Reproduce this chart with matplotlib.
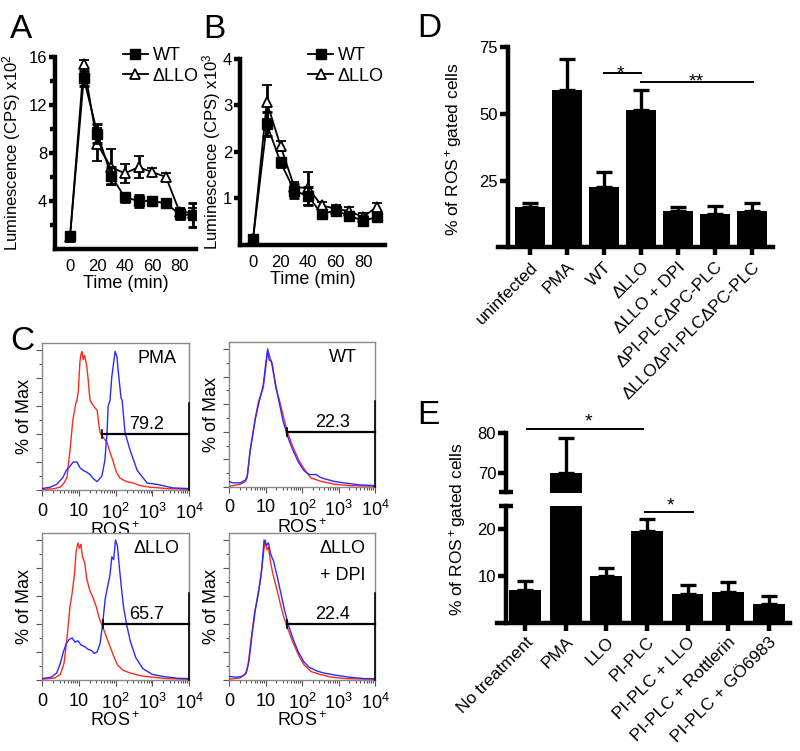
import numpy as np
import matplotlib
matplotlib.use("Agg")
import matplotlib.pyplot as plt
from matplotlib.lines import Line2D

plt.rcParams["font.family"] = ["Liberation Sans", "DejaVu Sans"]
plt.rcParams["mathtext.fontset"] = "custom"
plt.rcParams["mathtext.rm"] = "Liberation Sans"
plt.rcParams["mathtext.it"] = "Liberation Sans:italic"
plt.rcParams["mathtext.bf"] = "Liberation Sans:bold"
plt.rcParams["font.size"] = 12

# ─── data: A / B time courses ────────────────────────────────────────────────
time_min = [0, 10, 20, 30, 40, 50, 60, 70, 80, 90]
time_ticks = [0, 20, 40, 60, 80]

a_wt       = [1.1, 14.2, 9.6, 6.1, 4.3, 4.0, 4.0, 3.8, 2.9, 2.8]
a_wt_err   = [0.2, 0.6, 0.8, 0.7, 0.4, 0.5, 0.2, 0.3, 0.4, 1.0]
a_dllo     = [1.0, 15.4, 8.7, 6.8, 6.3, 6.8, 6.4, 6.0, 3.1, 3.0]
a_dllo_err = [0.1, 0.3, 1.4, 1.5, 0.8, 0.9, 0.3, 0.3, 0.3, 0.4]

b_wt       = [0.13, 2.60, 1.78, 1.17, 1.05, 0.67, 0.74, 0.63, 0.52, 0.60]
b_wt_err   = [0.05, 0.25, 0.10, 0.15, 0.20, 0.08, 0.08, 0.08, 0.10, 0.08]
b_dllo     = [0.13, 3.07, 2.13, 1.25, 1.22, 0.85, 0.78, 0.73, 0.60, 0.82]
b_dllo_err = [0.05, 0.37, 0.10, 0.10, 0.35, 0.08, 0.08, 0.08, 0.08, 0.08]

# ─── data: C flow histograms (x in decades: 0, 10, 10^2, 10^3, 10^4 -> 0..4) ─
pma_red_x  = [0, 0.3, 0.49, 0.6, 0.68, 0.76, 0.84, 0.92, 0.95, 0.99, 1.03, 1.06, 1.09, 1.12,
              1.15, 1.17, 1.22, 1.26, 1.28, 1.31, 1.40, 1.50, 1.55, 1.58, 1.68, 1.77, 1.85,
              1.93, 2.02, 2.12, 2.30, 2.48, 2.70, 2.94, 3.20, 3.40, 4.0]
pma_red_y  = [0.5, 0.8, 2, 5, 9, 28, 50, 62, 64, 71, 91, 97, 99, 93,
              96, 95, 88, 78, 71, 64, 60, 57, 46, 41, 37, 34, 27,
              21, 13, 8.5, 6, 5, 3, 2, 1.5, 1, 0.5]
pma_blue_x = [0, 0.22, 0.4, 0.57, 0.66, 0.76, 0.85, 0.95, 1.03, 1.12, 1.2, 1.31, 1.40, 1.50,
              1.63, 1.71, 1.77, 1.80, 1.85, 1.90, 1.99, 2.04, 2.07, 2.15, 2.18, 2.26, 2.39,
              2.59, 2.86, 3.13, 3.56, 4.0]
pma_blue_y = [1, 2, 4, 9, 14, 17, 20, 20, 16, 14, 13, 11, 8, 6,
              10, 21, 41, 60, 64, 81, 99, 95, 86, 66, 64, 41, 29,
              14, 5, 4, 1.5, 1]

wt_red_x   = [0, 0.31, 0.45, 0.5, 0.58, 0.72, 0.81, 0.94, 1.0, 1.05, 1.08, 1.13, 1.19, 1.28,
              1.39, 1.50, 1.61, 1.75, 1.92, 2.11, 2.25, 2.53, 2.89, 3.3, 4.0]
wt_red_y   = [0.5, 2, 4, 7, 27, 50, 62, 72, 85, 97, 98, 93, 89, 72,
              62, 50, 39, 29, 19, 11, 6.5, 4, 2, 1, 0.5]
wt_blue_x  = [0, 0.1, 0.31, 0.45, 0.5, 0.58, 0.72, 0.81, 0.94, 1.0, 1.06, 1.1, 1.16, 1.25,
              1.36, 1.48, 1.6, 1.73, 1.9, 2.05, 2.2, 2.39, 2.5, 2.61, 2.89, 3.28, 3.6, 4.0]
wt_blue_y  = [4, 3, 3, 5, 8, 26, 49, 60, 74, 88, 100, 92, 91, 78,
              63, 48, 37, 28, 18, 12, 9, 9, 7, 6, 4, 2.5, 1.5, 1]

dllo_red_x  = [0, 0.35, 0.5, 0.6, 0.68, 0.76, 0.82, 0.88, 0.93, 0.98, 1.02, 1.06, 1.1, 1.16,
               1.22, 1.3, 1.4, 1.48, 1.56, 1.65, 1.75, 1.85, 1.95, 2.05, 2.2, 2.4, 2.7, 3.0,
               3.4, 4.0]
dllo_red_y  = [0.5, 1.5, 4, 12, 30, 52, 62, 75, 92, 98, 94, 97, 88, 84,
               72, 64, 58, 52, 44, 38, 31, 24, 17, 11, 7, 5, 3, 2,
               1, 0.5]
dllo_blue_x = [0, 0.25, 0.4, 0.5, 0.58, 0.66, 0.74, 0.82, 0.9, 0.98, 1.06, 1.15, 1.25, 1.35,
               1.42, 1.5, 1.58, 1.65, 1.72, 1.78, 1.85, 1.9, 1.95, 2.0, 2.05, 2.1, 2.16, 2.22,
               2.3, 2.4, 2.55, 2.75, 3.0, 3.3, 3.7, 4.0]
dllo_blue_y = [1, 2, 5, 12, 20, 26, 29, 30, 27, 28, 25, 24, 22, 21,
               19, 20, 26, 40, 58, 66, 75, 88, 86, 100, 96, 82, 66, 52,
               40, 28, 16, 8, 4, 2.5, 1.2, 1]

dpi_red_x  = [0, 0.3, 0.45, 0.52, 0.6, 0.7, 0.8, 0.88, 0.95, 1.0, 1.04, 1.08, 1.14, 1.2,
              1.3, 1.4, 1.5, 1.62, 1.75, 1.9, 2.05, 2.25, 2.5, 2.8, 3.2, 4.0]
dpi_red_y  = [0.5, 1.5, 4, 10, 28, 48, 62, 75, 92, 100, 93, 95, 84, 76,
              66, 55, 45, 36, 27, 18, 11, 6, 4, 2, 1, 0.5]
dpi_blue_x = [0, 0.2, 0.35, 0.47, 0.55, 0.63, 0.72, 0.82, 0.9, 0.96, 1.02, 1.08, 1.14, 1.22,
              1.32, 1.42, 1.52, 1.63, 1.76, 1.9, 2.05, 2.2, 2.4, 2.6, 2.9, 3.3, 3.7, 4.0]
dpi_blue_y = [2.5, 2, 2.5, 5, 14, 32, 50, 64, 80, 100, 96, 98, 90, 85,
              74, 62, 50, 39, 29, 20, 13, 9, 6.5, 5, 3.5, 2, 1, 1]

flow_ticks  = ["0", "10", "$10^2$", "$10^3$", "$10^4$"]
gate_values = ["79.2", "22.3", "65.7", "22.4"]

# ─── data: D / E bar charts ─────────────────────────────────────────────────
d_labels = ["uninfected", "PMA", "WT", "ΔLLO", "ΔLLO + DPI",
            "ΔPI-PLCΔPC-PLC", "ΔLLOΔPI-PLCΔPC-PLC"]
d_vals = [15.2, 59.1, 22.7, 51.3, 13.5, 12.7, 13.5]
d_err  = [1.6, 11.3, 5.4, 7.5, 1.7, 2.9, 3.0]

e_labels = ["No treatment", "PMA", "LLO", "PI-PLC", "PI-PLC + LLO",
            "PI-PLC + Rottlerin", "PI-PLC + GÖ6983"]
e_vals = [7.0, 69.8, 9.9, 19.6, 6.2, 6.6, 3.9]
e_err  = [1.8, 8.9, 1.7, 2.5, 1.8, 2.0, 1.8]

# ─── helpers ────────────────────────────────────────────────────────────────
W, H = 800, 751
SPINE = 3.2


def rect(l, t, r, b):
    return [l / W, 1 - b / H, (r - l) / W, (b - t) / H]


def prism_axes(ax):
    for s in ("top", "right"):
        ax.spines[s].set_visible(False)
    for s in ("left", "bottom"):
        ax.spines[s].set_linewidth(SPINE)
        ax.spines[s].set_capstyle("projecting")
    ax.tick_params(which="both", direction="out", width=SPINE, labelsize=12, pad=1)
    ax.tick_params(which="major", length=4.5)
    ax.tick_params(which="minor", length=3.5)


fig = plt.figure(figsize=(8, 7.51), dpi=100)

# ─── A & B ──────────────────────────────────────────────────────────────────
def time_course(ax, wt, wt_err, dllo, dllo_err, ylim, yticks, yminor, exp, lab_x, leg_xy, xlim):
    ax.errorbar(time_min, dllo, yerr=dllo_err, fmt="-^", color="black", mfc="white",
                mec="black", ms=7, mew=1.3, lw=1.3, elinewidth=2, capsize=3.5,
                capthick=2, zorder=3)
    ax.errorbar(time_min, wt, yerr=wt_err, fmt="-s", color="black", ms=7, lw=1.3,
                elinewidth=2, capsize=3.5, capthick=2, zorder=4)
    prism_axes(ax)
    ax.set_xlim(*xlim)
    ax.set_ylim(*ylim)
    ax.set_yticks(yticks)
    if yminor:
        ax.set_yticks(yminor, minor=True)
    ax.set_xticks(time_ticks)
    ax.tick_params(axis="x", length=0, pad=7)
    ax.set_xlabel("Time (min)", fontsize=13, labelpad=1)
    ax.set_ylabel("Luminescence (CPS) x10$^{%d}$" % exp, fontsize=12)
    ax.yaxis.set_label_coords(lab_x, 0.5)
    handles = [Line2D([], [], color="black", marker="s", ms=7, lw=1.3),
               Line2D([], [], color="black", marker="^", mfc="white", ms=7, mew=1.3, lw=1.3)]
    ax.legend(handles, ["WT", "ΔLLO"], loc="upper left", bbox_to_anchor=leg_xy,
              frameon=False, fontsize=13, handlelength=1.4, handletextpad=0.25,
              borderaxespad=0, borderpad=0, labelspacing=0.2)


axA = fig.add_axes(rect(55, 56.7, 196, 249))
time_course(axA, a_wt, a_wt_err, a_dllo, a_dllo_err, (0, 16), [4, 8, 12, 16],
            [2, 6, 10, 14], 2, -0.23, (0.48, 1.05), (-11, 92))

axB = fig.add_axes(rect(240, 59, 385, 245))
time_course(axB, b_wt, b_wt_err, b_dllo, b_dllo_err, (0, 4), [1, 2, 3, 4],
            None, 3, -0.115, (0.47, 1.065), (-9.5, 96))

# ─── C ──────────────────────────────────────────────────────────────────────
def flow_panel(ax, rx, ry, bx, by, gate_x0, gate_txt, name, name_y):
    ax.plot(rx, ry, color="#ff2a1f", lw=1.0, zorder=3)
    ax.plot(bx, by, color="#2a2aff", lw=1.0, zorder=3)
    ax.set_xlim(0, 4)
    ax.set_ylim(0, 105)
    for s in ax.spines.values():
        s.set_color("#8a8a8a")
        s.set_linewidth(1.0)
    ax.set_xticks(range(5))
    ax.set_xticklabels(flow_ticks, fontsize=13)
    ax.set_xticks([d + np.log10(k) for d in range(4) for k in range(2, 10)], minor=True)
    ax.set_yticks(range(0, 101, 20))
    ax.set_yticklabels([])
    ax.set_yticks(range(10, 101, 20), minor=True)
    ax.tick_params(which="both", direction="out", color="#555555", width=0.8, pad=5)
    ax.tick_params(which="major", length=4)
    ax.tick_params(which="minor", length=2.5)
    ax.set_xlabel("ROS$^+$", fontsize=13, labelpad=-1)
    ax.set_ylabel("% of Max", fontsize=13)
    ax.yaxis.set_label_coords(-0.06, 0.5)
    gy = 40
    ax.plot([gate_x0, 4], [gy, gy], color="black", lw=1.6, clip_on=False, zorder=4)
    ax.plot([gate_x0, gate_x0], [gy - 3, gy + 3], color="black", lw=1.2, zorder=4)
    ax.plot([4, 4], [0, 62], color="black", lw=1.2, clip_on=False, zorder=4)
    ax.text(2.85, 47, gate_txt, fontsize=13, ha="center", va="center")
    for i, line in enumerate(name):
        ax.text(3.12, name_y - 19 * i, line, fontsize=13, ha="center", va="center")


axC1 = fig.add_axes(rect(42, 343, 189, 490))
flow_panel(axC1, pma_red_x, pma_red_y, pma_blue_x, pma_blue_y, 1.63, gate_values[0], ["PMA"], 94)
axC2 = fig.add_axes(rect(229, 342, 375, 487))
flow_panel(axC2, wt_red_x, wt_red_y, wt_blue_x, wt_blue_y, 1.58, gate_values[1], ["WT"], 94)
axC3 = fig.add_axes(rect(42, 533, 189, 680))
flow_panel(axC3, dllo_red_x, dllo_red_y, dllo_blue_x, dllo_blue_y, 1.66, gate_values[2], ["ΔLLO"], 94)
axC4 = fig.add_axes(rect(229, 533, 375, 680))
flow_panel(axC4, dpi_red_x, dpi_red_y, dpi_blue_x, dpi_blue_y, 1.58, gate_values[3], ["ΔLLO", "+ DPI"], 94)

# ─── D ──────────────────────────────────────────────────────────────────────
axD = fig.add_axes(rect(498, 47, 773, 247.5))
xd = np.arange(len(d_vals))
axD.bar(xd, d_vals, width=0.8, color="black", zorder=3)
axD.errorbar(xd, d_vals, yerr=[np.zeros(len(d_err)), d_err], fmt="none", ecolor="black",
             elinewidth=2.4, capsize=5.5, capthick=2.4, zorder=2)
prism_axes(axD)
axD.set_xlim(-0.865, 6.57)
axD.set_ylim(0, 75)
axD.spines["left"].set_position(("data", -0.6))
axD.set_yticks([25, 50, 75])
axD.tick_params(axis="y", length=6)
axD.set_xticks(xd)
axD.set_xticklabels(d_labels, rotation=45, ha="right", rotation_mode="anchor", fontsize=12.5)
axD.tick_params(axis="x", length=5.5, pad=3)
axD.set_ylabel("% of ROS$^+$gated cells", fontsize=12.5)
axD.yaxis.set_label_coords(-0.125, 0.49)
axD.plot([2, 3], [65.1, 65.1], color="black", lw=1.4, zorder=4)
axD.text(2.45, 63.3, "*", fontsize=14, ha="center", va="baseline")
axD.plot([3, 6.03], [62, 62], color="black", lw=1.4, zorder=4)
axD.text(4.5, 60.2, "**", fontsize=14, ha="center", va="baseline")

# ─── E (broken axis) ────────────────────────────────────────────────────────
axEu = fig.add_axes(rect(497, 433, 790, 492.5))
axEl = fig.add_axes(rect(497, 505.75, 790, 622.5))
xe = np.arange(len(e_vals))
for ax in (axEu, axEl):
    ax.bar(xe, e_vals, width=0.78, color="black", zorder=3)
    ax.errorbar(xe, e_vals, yerr=[np.zeros(len(e_err)), e_err], fmt="none", ecolor="black",
                elinewidth=2.4, capsize=5.5, capthick=2.4, zorder=2)
    prism_axes(ax)
    ax.set_xlim(-0.69, 6.52)
    ax.spines["left"].set_position(("data", -0.47))
    ax.tick_params(axis="y", length=6)
    ax.tick_params(axis="y", which="minor", direction="inout", length=10)

axEu.set_ylim(65, 80)
axEu.spines["bottom"].set_visible(False)
axEu.set_xticks([])
axEu.set_yticks([70, 80])
axEu.set_yticks([65], minor=True)

axEl.set_ylim(0, 25)
axEl.set_yticks([10, 20])
axEl.set_yticks([25], minor=True)
axEl.set_xticks(xe)
axEl.set_xticklabels(e_labels, rotation=45, ha="right", rotation_mode="anchor", fontsize=12.5)
axEl.tick_params(axis="x", length=5.5, pad=3)

fig.text(457 / W, 1 - 529 / H, "% of ROS$^+$gated cells", rotation=90,
         ha="center", va="center", fontsize=12.5)
axEu.plot([0.05, 2.9], [81, 81], color="black", lw=1.4, clip_on=False)
axEu.text(1.57, 81.7, "*", fontsize=14, ha="center", va="baseline")
axEl.plot([2.95, 4.13], [23.7, 23.7], color="black", lw=1.4, clip_on=False)
axEl.text(3.57, 24.0, "*", fontsize=14, ha="center", va="baseline")

# ─── panel letters ──────────────────────────────────────────────────────────
for letter, x, y in [("A", 10, 38), ("B", 203, 38), ("C", 10, 350),
                     ("D", 417, 37), ("E", 417, 424)]:
    fig.text(x / W, 1 - y / H, letter, fontsize=24, va="baseline", ha="left")

fig.savefig("out.png", dpi=100)
